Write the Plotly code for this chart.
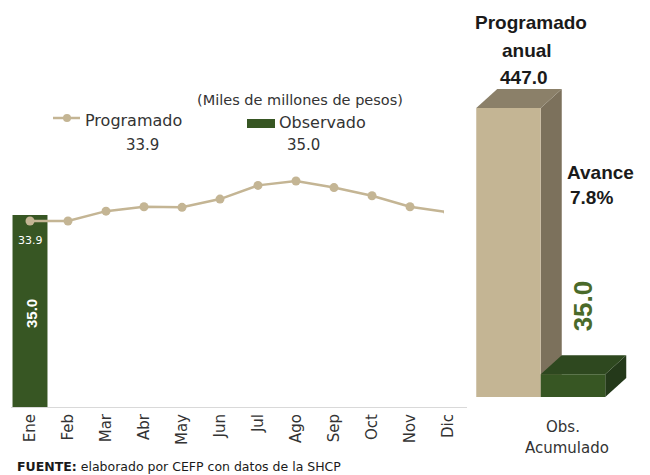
import plotly.graph_objects as go

# ---------------- data ----------------
months = ["Ene", "Feb", "Mar", "Abr", "May", "Jun", "Jul", "Ago", "Sep", "Oct", "Nov", "Dic"]
programado = [33.9, 33.9, 35.7, 36.5, 36.4, 37.9, 40.4, 41.2, 40.0, 38.5, 36.5, 35.5]
obs_months = ["Ene"]
observado = [35.0]
programado_anual = 447.0
obs_acumulado = 35.0
avance_pct = 7.8
programado_mes = 33.9
observado_mes = 35.0

# ---------------- style ----------------
OFF = 8                      # page body margin
W, H = 650 - OFF, 475 - OFF  # figure size so the whole page fits the window
TAN = "#c4b594"
TAN_SIDE = "#7c715c"
TAN_TOP = "#8b8069"
GREEN = "#375623"
GREEN_SIDE = "#24391a"
GREEN_TOP = "#2e481f"
TXT = "#333333"
FONT = "DejaVu Sans"
BOLD = "Liberation Sans"


def px_x(p):
    return (p - OFF) / W


def px_y(p):
    return 1 - (p - OFF) / H


fig = go.Figure()

# ---- left: monthly chart ----
fig.add_trace(go.Bar(x=obs_months, y=observado, width=0.92, marker=dict(color=GREEN, line=dict(width=0)),
                     xaxis="x", yaxis="y", hoverinfo="skip"))
fig.add_trace(go.Scatter(x=months, y=programado, mode="lines+markers",
                         line=dict(color=TAN, width=2.5), marker=dict(color=TAN, size=9),
                         xaxis="x", yaxis="y"))

# ---- right: 3D cumulative bars ----
unit_px_x = 64.5
unit_px_y = 289 / programado_anual
dx = 21 / unit_px_x
dy = 19 / unit_px_y


def box(xc, h, front, side, top):
    x0, x1 = xc - 0.5, xc + 0.5
    tr = []
    tr.append(go.Scatter(x=[x1, x1 + dx, x1 + dx, x1, x1], y=[0, dy, h + dy, h, 0],
                         fill="toself", fillcolor=side, mode="lines", line=dict(width=0, color=side),
                         xaxis="x2", yaxis="y2", hoverinfo="skip"))
    tr.append(go.Scatter(x=[x0, x0 + dx, x1 + dx, x1, x0], y=[h, h + dy, h + dy, h, h],
                         fill="toself", fillcolor=top, mode="lines", line=dict(width=0, color=top),
                         xaxis="x2", yaxis="y2", hoverinfo="skip"))
    tr.append(go.Scatter(x=[x0, x1, x1, x0, x0], y=[0, 0, h, h, 0],
                         fill="toself", fillcolor=front, mode="lines", line=dict(width=0, color=front),
                         xaxis="x2", yaxis="y2", hoverinfo="skip"))
    return tr


for t in box(0, programado_anual, TAN, TAN_SIDE, TAN_TOP):
    fig.add_trace(t)
for t in box(1, obs_acumulado, GREEN, GREEN_SIDE, GREEN_TOP):
    fig.add_trace(t)

annotations = []


def ptext(x, y, text, size, family=FONT, color=TXT, xanchor="center", align="center"):
    annotations.append(dict(x=px_x(x), y=px_y(y), xref="paper", yref="paper", xanchor=xanchor,
                            yanchor="middle", text=text, showarrow=False, align=align,
                            font=dict(family=family, size=size, color=color)))


# labels inside the Ene bar
annotations.append(dict(x=months[0], y=programado[0], xref="x", yref="y", yshift=-19,
                        xanchor="center", yanchor="middle",
                        text=f"{programado[0]:.1f}", showarrow=False,
                        font=dict(family=FONT, size=11, color="white")))
annotations.append(dict(x=obs_months[0], y=observado[0] / 2, xref="x", yref="y", yshift=-3, xshift=1,
                        xanchor="center", yanchor="middle",
                        text=f"<b>{observado[0]:.1f}</b>", textangle=-90, showarrow=False,
                        font=dict(family=BOLD, size=15, color="white")))

# units
ptext(300, 100, "(Miles de millones de pesos)", 14.5)
# legend texts
ptext(83, 120, "Programado", 16, xanchor="left")
ptext(277, 123, "Observado", 16, xanchor="left")
ptext(142, 145, f"{programado_mes:.1f}", 15)
ptext(303, 145, f"{observado_mes:.1f}", 15)

# right chart texts
ptext(531, 22, "<b>Programado</b>", 19, family=BOLD, color="#1a1a1a")
ptext(527, 50, "<b>anual</b>", 19, family=BOLD, color="#1a1a1a")
ptext(524, 77, f"<b>{programado_anual:.1f}</b>", 19, family=BOLD, color="#1a1a1a")
ptext(565, 172, "<b>Avance</b>", 19, family=BOLD, color="#1a1a1a", xanchor="left")
ptext(568, 198, f"<b>{avance_pct:.1f}%</b>", 19, family=BOLD, color="#1a1a1a", xanchor="left")
annotations.append(dict(x=1 + dx / 2, y=obs_acumulado + dy, xref="x2", yref="y2",
                        xanchor="center", yanchor="bottom", yshift=22, xshift=-1,
                        text=f"<b>{obs_acumulado:.1f}</b>", textangle=-90, showarrow=False,
                        font=dict(family=BOLD, size=26, color="#4a6a2a")))
ptext(563, 427, "Obs.", 15)
ptext(567, 448, "Acumulado", 15)
# source
ptext(15, 466, "<b>FUENTE:</b> elaborado por CEFP con datos de la SHCP", 12.5, color="#1a1a1a", xanchor="left")

shapes = [
    dict(type="line", xref="paper", yref="paper", x0=px_x(53), x1=px_x(80), y0=px_y(118), y1=px_y(118),
         line=dict(color=TAN, width=2.5)),
    dict(type="circle", xref="paper", yref="paper", x0=px_x(63), x1=px_x(71), y0=px_y(122), y1=px_y(114),
         fillcolor=TAN, line=dict(width=0)),
    dict(type="rect", xref="paper", yref="paper", x0=px_x(247), x1=px_x(275), y0=px_y(128), y1=px_y(119),
         fillcolor=GREEN, line=dict(width=0)),
]

fig.update_layout(
    width=W, height=H,
    margin=dict(l=0, r=0, t=0, b=0),
    paper_bgcolor="white", plot_bgcolor="white",
    showlegend=False,
    xaxis=dict(domain=[px_x(11), px_x(467)], type="category", categoryorder="array", categoryarray=months,
               range=[-0.5, 11.5], showline=True, linecolor="#d9d9d9", linewidth=1, showgrid=False,
               zeroline=False, ticks="", tickangle=-90, tickfont=dict(family=FONT, size=15, color=TXT),
               anchor="y"),
    yaxis=dict(domain=[px_y(407), 1], range=[0, (407 - OFF) / (192 / 35.0)], visible=False, anchor="x"),
    xaxis2=dict(domain=[px_x(444), px_x(637.5)], range=[-1, 2], visible=False, anchor="y2"),
    yaxis2=dict(domain=[px_y(397), 1], range=[0, (397 - OFF) / unit_px_y], visible=False, anchor="x2"),
    annotations=annotations,
    shapes=shapes,
)

fig.write_html("out.html")
